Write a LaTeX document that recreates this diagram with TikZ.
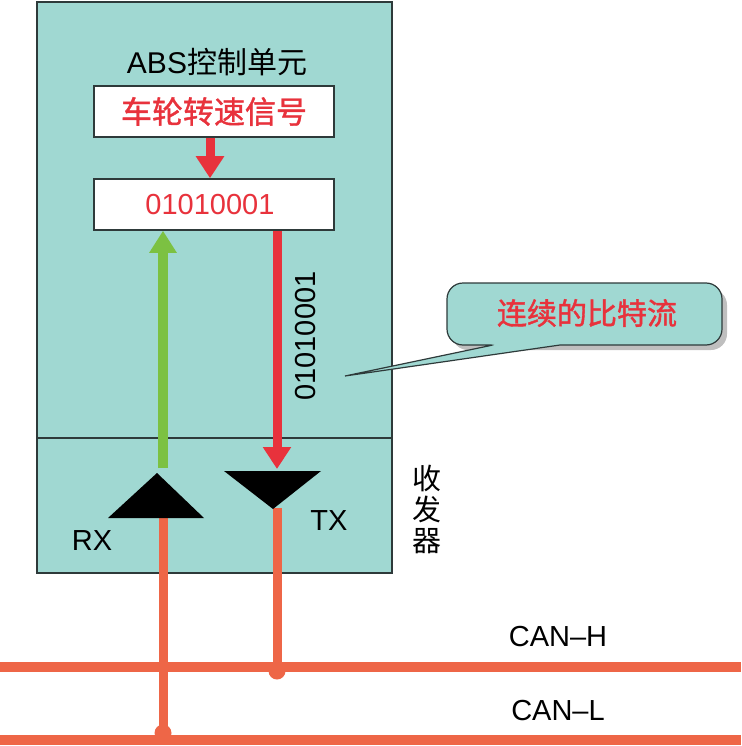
\documentclass[tikz,border=0pt]{standalone}
\usepackage{fontspec}
\setmainfont{Liberation Sans}
\newfontfamily\cjk{Noto Sans CJK SC}
\newfontfamily\cjkb[FakeBold=1.3]{Noto Sans CJK SC}
\usetikzlibrary{arrows.meta}
\definecolor{tealbg}{HTML}{A0D8D2}
\definecolor{myred}{HTML}{E8323C}
\definecolor{mygreen}{HTML}{7CC142}
\definecolor{myorange}{HTML}{EE6647}
\definecolor{edgecol}{HTML}{2E3A3A}
\begin{document}
\begin{tikzpicture}[x=1pt,y=-1pt,
  fs/.style={font=\fontsize{#1}{#1}\selectfont},
  whitebox/.style={draw=edgecol,line width=1.5pt,fill=white,minimum width=240pt,minimum height=51pt,inner sep=0pt},
  bus/.style={myorange,line width=10pt},
  stub/.style={myorange,line width=9pt},
  redarrow/.style={myred,line width=9pt,-{Triangle[width=27pt,length=22pt]}},
  greenarrow/.style={mygreen,line width=10pt,-{Triangle[width=26pt,length=22pt]}},
  plain/.style={inner sep=0pt}
]
\useasboundingbox (0,0) rectangle (741,746);
% main unit
\node[draw=edgecol,line width=1.5pt,fill=tealbg,minimum width=355pt,minimum height=571pt,inner sep=0pt] (unit) at (214.5,287.5) {};
\draw[edgecol,line width=1.2pt] (unit.west |- 0,438) coordinate (dl) -- (unit.east |- 0,438) coordinate (dr);
\node[plain,fs=30] (title) at (217,62) {ABS{\cjk 控制单元}};
\node[whitebox] (b1) at (214,111.5) {};
\node[plain,fs=31,text=myred] (t1) at (214,111.5) {\cjkb 车轮转速信号};
\node[whitebox] (b2) at (214,204.5) {};
\node[plain,fs=29,text=myred] (t2) at (210,205) {01010001};
% arrows
\draw[redarrow] (b1.south -| 210,0) -- (b2.north -| 210,0);
\coordinate (rxtop) at (163,468);
\coordinate (txtop) at (277,469);
\draw[greenarrow] (rxtop) -- (b2.south -| rxtop);
\draw[redarrow] (b2.south -| txtop) -- (txtop);
\node[plain,fs=29,rotate=90] (bits) at (306,336) {01010001};
% bus
\coordinate (hl) at (0,667); \coordinate (hr) at (741,667);
\coordinate (ll) at (0,740); \coordinate (lr) at (741,740);
\draw[bus] (hl) -- (hr);
\draw[bus] (ll) -- (lr);
\coordinate (rxbase) at (163,516);
\coordinate (txbase) at (277,508);
\draw[stub] (rxbase) -- (rxbase |- ll);
\draw[stub] (txbase) -- (txbase |- hl);
\fill[myorange] (163,733) circle (8.5pt);
\fill[myorange] (277,671) circle (8.5pt);
% transceiver triangles
\fill[black] (157,473) coordinate (rxapex) -- (108,518) -- (204,518) -- cycle;
\fill[black] (224,471) -- (321,471) -- (273,509) coordinate (txapex) -- cycle;
\node[plain,fs=29] (rx) at (92,541) {RX};
\node[plain,fs=29] (tx) at (329,521) {TX};
\node[plain,fs=29,align=center,font=\fontsize{29}{31}\selectfont\cjk] (trx) at (427,509) {收\\发\\器};
% callout
\fill[black!25,rounded corners=16pt] (452,289) rectangle (727,350);
\draw[edgecol,line width=1.2pt,fill=tealbg,rounded corners=16pt]
  (560,345) -- (722,345) -- (722,283) -- (447,283) -- (447,345) [rounded corners=2pt] -- (493,345)
  [sharp corners] -- (345,376) -- (560,345) -- cycle;
\node[plain,fs=30,text=myred] (callout) at (587,313) {\cjkb 连续的比特流};
% labels
\node[plain,fs=29] (canh) at (558,637) {CAN–H};
\node[plain,fs=29] (canl) at (558,711) {CAN–L};
\end{tikzpicture}
\end{document}
